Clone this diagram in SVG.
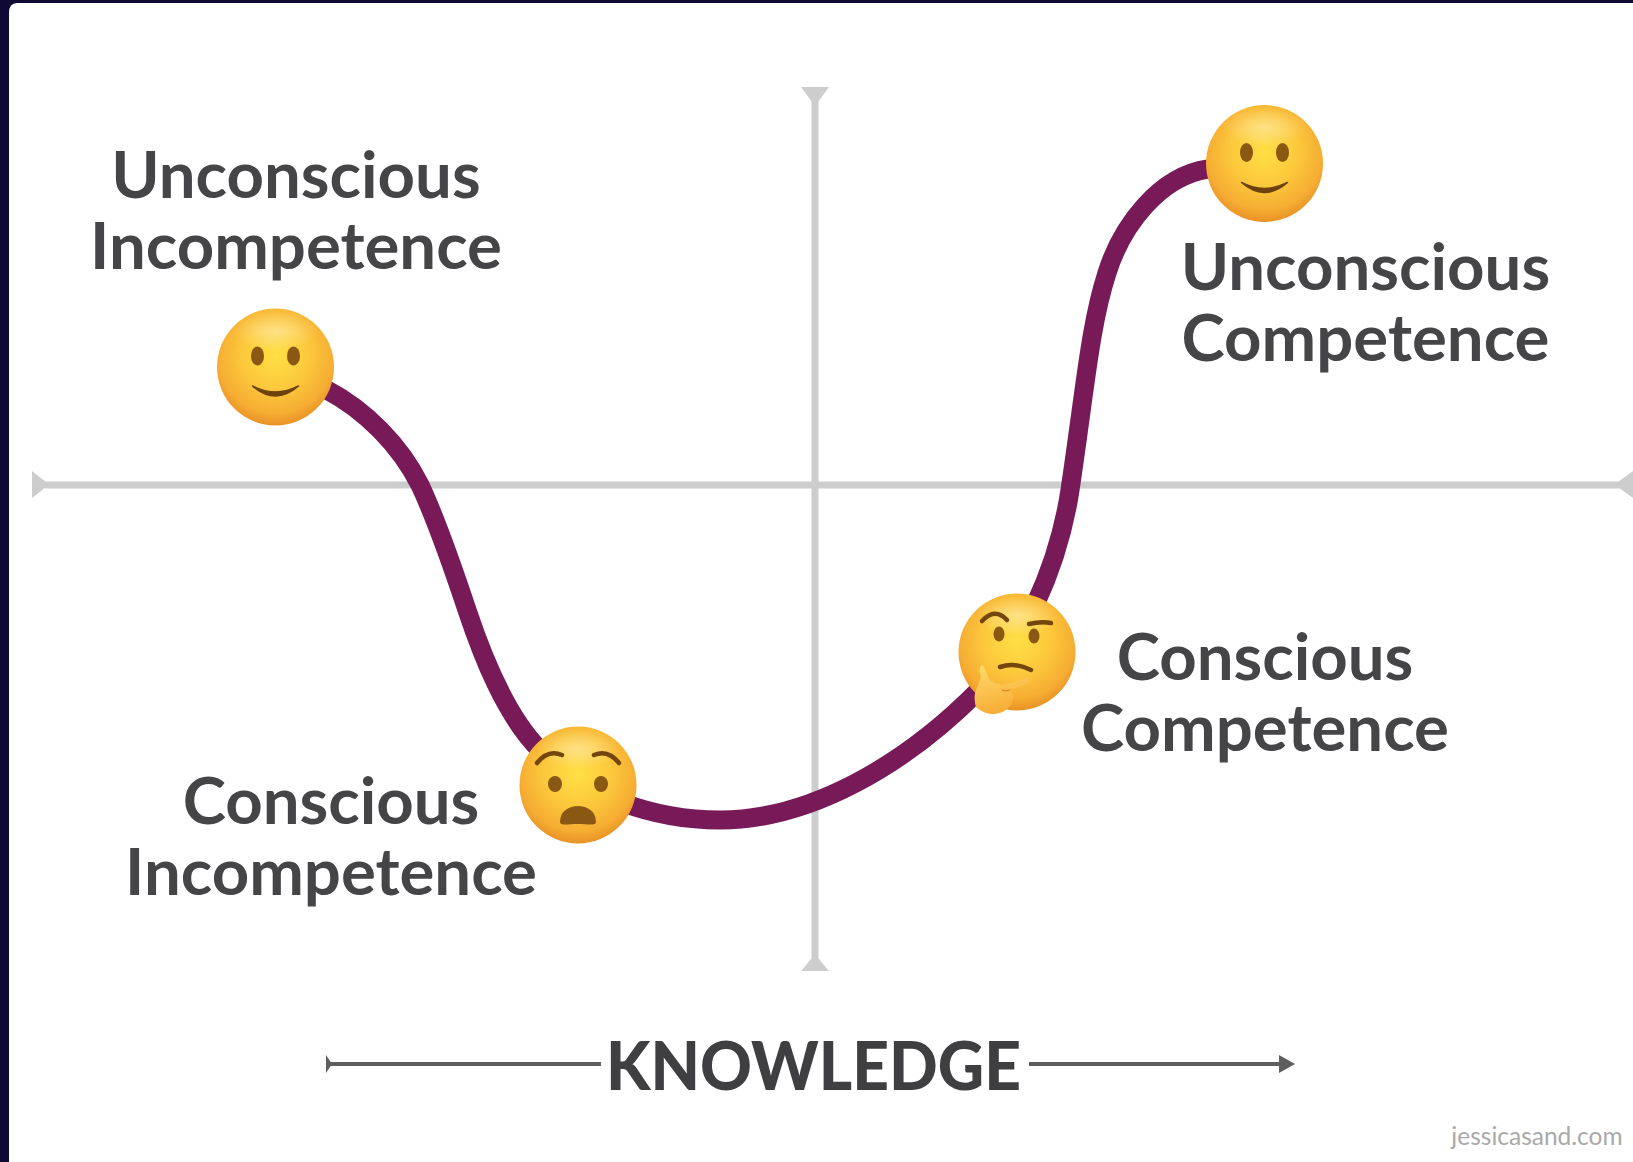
<svg xmlns="http://www.w3.org/2000/svg" width="1633" height="1162" viewBox="0 0 1633 1162">
<style>
.lab{font-family:Lato,"Liberation Sans",sans-serif;font-weight:700;font-size:65.300px;fill:#454547;text-anchor:middle}
.axis{stroke:#cdcdcd;stroke-width:7;fill:none}
.axh{fill:#cdcdcd}
.feat{fill:#8a5812}
.line{stroke:#5e5e5e;stroke-width:4;fill:none}
.brow{fill:none;stroke:#74450c;stroke-width:4.500;stroke-linecap:round}
</style>
<defs>
<radialGradient id="face" cx="0.5" cy="0.4" r="0.62">
<stop offset="0" stop-color="#ffdf45"/>
<stop offset="0.45" stop-color="#fcc93c"/>
<stop offset="0.8" stop-color="#f6ad33"/>
<stop offset="1" stop-color="#e58d24"/>
</radialGradient>
<radialGradient id="shine" cx="0.5" cy="0.5" r="0.5">
<stop offset="0" stop-color="#fff" stop-opacity="0.38"/>
<stop offset="1" stop-color="#fff" stop-opacity="0"/>
</radialGradient>
<linearGradient id="hand" x1="0.3" y1="0" x2="0.6" y2="1">
<stop offset="0" stop-color="#ffd869"/>
<stop offset="1" stop-color="#f7a932"/>
</linearGradient>
<g id="base">
<circle r="58.500" fill="url(#face)"/>
<ellipse cy="-36" rx="42" ry="20" fill="url(#shine)"/>
</g>
<g id="smile">
<use href="#base"/>
<ellipse cx="-18" cy="-11" rx="6.500" ry="9.500" class="feat"/>
<ellipse cx="18" cy="-11" rx="6.500" ry="9.500" class="feat"/>
<path d="M-23 19 Q0 39 23 19 Q0 31 -23 19Z" fill="#6d420c" stroke="#6d420c" stroke-width="1.500" stroke-linejoin="round"/>
</g>
</defs>
<rect width="1633" height="1162" fill="#0e0a33"/>
<path d="M9 13 Q9 3 17 3 H1633 V1162 H9Z" fill="#fff"/>

<g id="axes">
<path class="axis" d="M815 100V958"/>
<path class="axis" d="M45 485H1620"/>
<path class="axh" d="M801 87H829L818 102H812Z"/>
<path class="axh" d="M801 971H829L818 958H812Z"/>
<path class="axh" d="M32 471V498L46 487V482Z"/>
<path class="axh" d="M1633 471V498L1618 487V482Z"/>
</g>

<g id="connectors">
<path fill="none" stroke="#771a57" stroke-width="19" d="M327 390 C365 410 400 445 420 485 C436 519 452 565 467 610 C482 655 505 715 540 750 C585 797 655 820 720 820 C810 820 905 765 979 690 C1020 648 1058 570 1070 490 C1085 390 1090 325 1107 273 C1122 225 1160 176 1208 169"/>
</g>

<g id="node-unconscious-incompetence">
<use href="#smile" transform="translate(275.500 367)"/>
<text class="lab" x="296" y="198">Unconscious</text>
<text class="lab" x="296" y="269">Incompetence</text>
</g>

<g id="node-conscious-incompetence">
<g transform="translate(578 785)">
<use href="#base"/>
<ellipse cx="-23" cy="-1" rx="7" ry="8" class="feat"/>
<ellipse cx="23" cy="-1" rx="7" ry="8" class="feat"/>
<path class="brow" d="M-41 -22 Q-30 -36 -16 -30"/>
<path class="brow" d="M41 -22 Q30 -36 16 -30"/>
<path d="M-18 37 C-18 26 -9 21 0 21 C9 21 18 26 18 37 C18 41 10 39 0 39 C-10 39 -18 41 -18 37Z" fill="#8a5812"/>
</g>
<text class="lab" x="331" y="824">Conscious</text>
<text class="lab" x="331" y="895">Incompetence</text>
</g>

<g id="node-conscious-competence">
<g transform="translate(1017 652)">
<use href="#base"/>
<ellipse cx="-18" cy="-18" rx="5.500" ry="7.500" class="feat"/>
<ellipse cx="17" cy="-16" rx="5.500" ry="7.500" class="feat"/>
<path class="brow" d="M-35 -31 Q-22 -45 -10 -32"/>
<path class="brow" d="M12 -28 Q24 -31 34 -29"/>
<path class="brow" d="M-17 15 Q-2 10 14 18"/>
<path d="M-35 13 C-31 16 -30 24 -27 28 C-20 33 -15 33 -11 32 C-3 31 3 28 9 26 C12 25 14 27 12 29 C11 31 9 32 6 33 C2 35 -3 36 -7 38 C-4 41 -3 44 -4 47 C-4 50 -5 52 -6 53 C-10 58 -16 62 -24 62 C-30 62 -34 60 -37 58 C-41 56 -42 53 -42 50 C-43 45 -42 41 -41 38 C-39 33 -37 29 -36 25 C-37 21 -38 19 -37 17 C-37 15 -36 13 -35 13Z" fill="url(#hand)"/>
<path d="M-7 38 C-10 39 -12 39 -15 38" fill="none" stroke="#e58d24" stroke-width="1.500"/>
</g>
<text class="lab" x="1265" y="680">Conscious</text>
<text class="lab" x="1265" y="751">Competence</text>
</g>

<g id="node-unconscious-competence">
<use href="#smile" transform="translate(1264.500 163.500)"/>
<text class="lab" x="1365.500" y="290">Unconscious</text>
<text class="lab" x="1365.500" y="361">Competence</text>
</g>

<g id="knowledge">
<path class="line" d="M328 1064H601"/>
<path d="M326 1055L332 1064L326 1073Z" fill="#5e5e5e"/>
<path class="line" d="M1029 1064H1284"/>
<path d="M1279 1055L1295 1064L1279 1073Z" fill="#5e5e5e"/>
<text x="813.500" y="1090" font-family="Lato,'Liberation Sans',sans-serif" font-weight="900" font-size="66" fill="#3f3f41" text-anchor="middle" textLength="415" lengthAdjust="spacingAndGlyphs">KNOWLEDGE</text>
</g>
<text id="credit" x="1537" y="1145" font-family="Lato,'Liberation Sans',sans-serif" font-size="24.500" fill="#a9a9a9" text-anchor="middle">jessicasand.com</text>
</svg>
